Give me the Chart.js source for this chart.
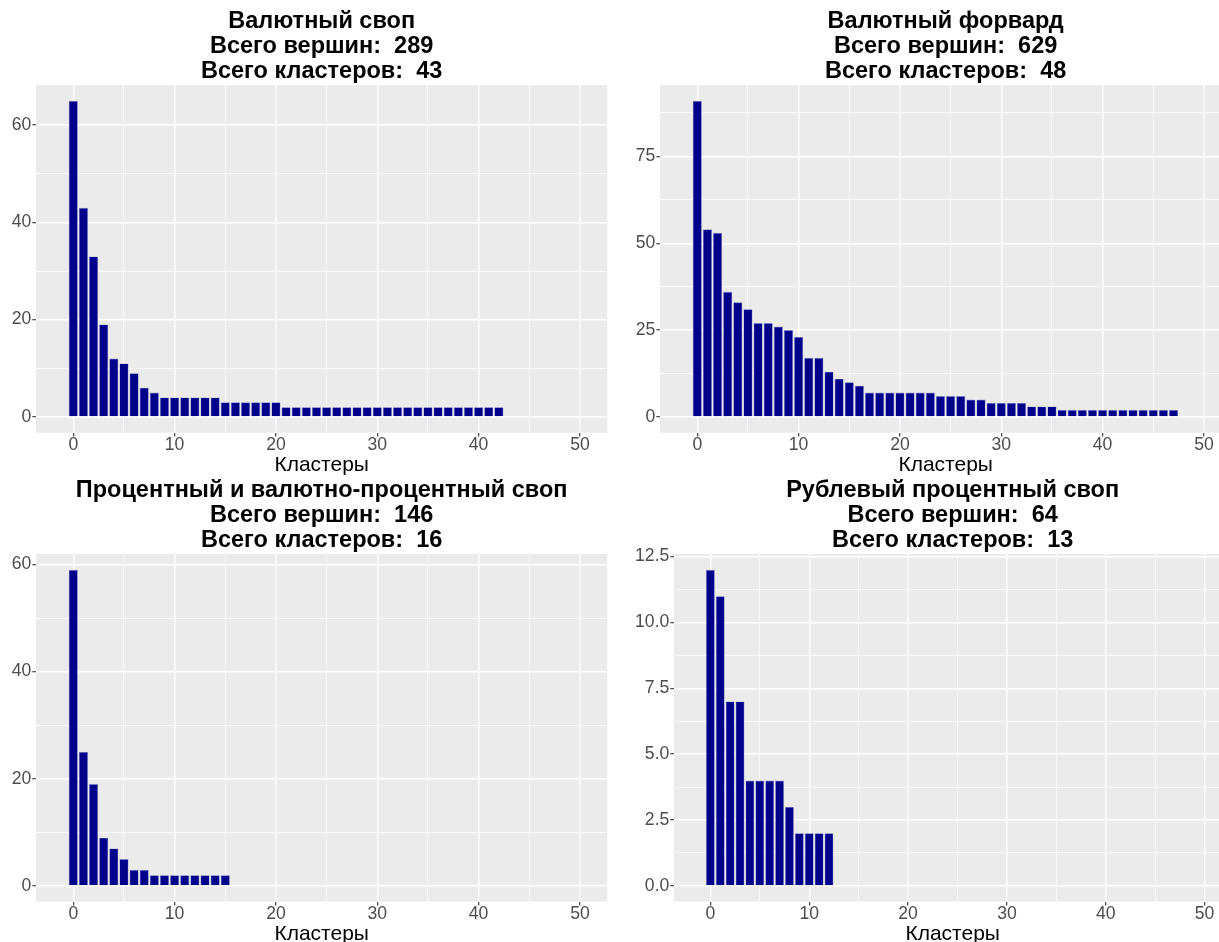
<!DOCTYPE html>
<html>
<head>
<meta charset="utf-8">
<script src="https://cdn.jsdelivr.net/npm/chart.js@4.4.0/dist/chart.umd.min.js"></script>
<style>
html,body{margin:0;padding:0;background:#ffffff;overflow:hidden;width:1219px;height:942px;}
.panel{position:absolute;}
</style>
</head>
<body>
<div class="panel" style="left:0px;top:0px;width:624px;height:478px"><canvas id="c1"></canvas></div>
<div class="panel" style="left:624px;top:0px;width:624px;height:478px"><canvas id="c2"></canvas></div>
<div class="panel" style="left:0px;top:469px;width:624px;height:478px"><canvas id="c3"></canvas></div>
<div class="panel" style="left:624px;top:469px;width:624px;height:478px"><canvas id="c4"></canvas></div>
<script>
// ---- data ----
const fxSwapTitle = ["Валютный своп", "Всего вершин:  289", "Всего кластеров:  43"];
const fxSwapValues = [65,43,33,19,12,11,9,6,5,4,4,4,4,4,4,3,3,3,3,3,3,2,2,2,2,2,2,2,2,2,2,2,2,2,2,2,2,2,2,2,2,2,2];

const fxForwardTitle = ["Валютный форвард", "Всего вершин:  629", "Всего кластеров:  48"];
const fxForwardValues = [91,54,53,36,33,31,27,27,26,25,23,17,17,13,11,10,9,7,7,7,7,7,7,7,6,6,6,5,5,4,4,4,4,3,3,3,2,2,2,2,2,2,2,2,2,2,2,2];

const irSwapTitle = ["Процентный и валютно-процентный своп", "Всего вершин:  146", "Всего кластеров:  16"];
const irSwapValues = [59,25,19,9,7,5,3,3,2,2,2,2,2,2,2,2];

const rubSwapTitle = ["Рублевый процентный своп", "Всего вершин:  64", "Всего кластеров:  13"];
const rubSwapValues = [12,11,7,7,4,4,4,4,3,2,2,2,2];

const xAxisTitle = "Кластеры";
const xMajorTicks = [0,10,20,30,40,50];
const xMinorTicks = [5,15,25,35,45];

const y1Major = [0,20,40,60];        const y1Minor = [10,30,50];
const y2Major = [0,25,50,75];        const y2Minor = [12.5,37.5,62.5,87.5];
const y3Major = [0,20,40,60];        const y3Minor = [10,30,50];
const y4Major = [0,2.5,5,7.5,10,12.5]; const y4Minor = [1.25,3.75,6.25,8.75,11.25];
const y4Labels = ["0.0","2.5","5.0","7.5","10.0","12.5"];

// ---- drawing ----
const FONT = "'Liberation Sans', Arial, sans-serif";
const bgPlugin = {
  id: 'panelBg',
  beforeDraw(chart) {
    const a = chart.chartArea;
    const ctx = chart.ctx;
    ctx.save();
    ctx.fillStyle = '#EBEBEB';
    ctx.fillRect(a.left, a.top, a.right - a.left, a.bottom - a.top);
    ctx.restore();
  }
};

function makeChart(id, title, values, yMajor, yMinor, yMin, yMax, yLabels, yAxisWidth) {
  const points = values.map((v, i) => ({x: i, y: v}));
  const xAll = xMinorTicks.concat(xMajorTicks).sort((a, b) => a - b);
  const yAll = yMinor.concat(yMajor).sort((a, b) => a - b);
  const isXMajor = v => xMajorTicks.includes(v);
  const isYMajor = v => yMajor.includes(v);
  return new Chart(document.getElementById(id), {
    type: 'bar',
    data: {
      datasets: [{
        data: points,
        backgroundColor: '#00008B',
        borderColor: '#8E8ECF',
        borderWidth: 0.6,
        barPercentage: 0.9,
        categoryPercentage: 1.0
      }]
    },
    options: {
      responsive: true,
      maintainAspectRatio: false,
      animation: false,
      devicePixelRatio: 1,
      layout: { padding: { left: 0, right: 16.7, top: 0, bottom: 0 } },
      plugins: {
        legend: { display: false },
        tooltip: { enabled: false },
        title: {
          display: true,
          text: title,
          fullSize: false,
          color: '#000000',
          font: { family: FONT, size: 23.5, weight: 'bold', lineHeight: '25px' },
          padding: { top: 9.5, bottom: 0.5 }
        }
      },
      scales: {
        x: {
          type: 'linear',
          offset: false,
          min: -3.68,
          max: 52.7,
          afterBuildTicks: s => { s.ticks = xAll.map(v => ({ value: v })); },
          afterFit: s => { s.height = 45.3; },
          border: { display: false },
          grid: {
            offset: false,
            color: '#FFFFFF',
            lineWidth: c => (c.tick && isXMajor(c.tick.value)) ? 1.4 : 0.7,
            drawTicks: true,
            tickLength: 3.7,
            tickWidth: 1.1,
            tickColor: c => (c.tick && isXMajor(c.tick.value)) ? '#333333' : 'rgba(0,0,0,0)'
          },
          ticks: {
            autoSkip: false,
            maxRotation: 0,
            padding: 0,
            color: '#4D4D4D',
            font: { family: FONT, size: 17.6, lineHeight: 1 },
            callback: v => isXMajor(v) ? String(v) : ''
          },
          title: {
            display: true,
            text: xAxisTitle,
            color: '#000000',
            font: { family: FONT, size: 21, lineHeight: 1.2 },
            padding: 0
          }
        },
        y: {
          type: 'linear',
          min: yMin,
          max: yMax,
          afterBuildTicks: s => { s.ticks = yAll.map(v => ({ value: v })); },
          afterFit: s => { s.width = yAxisWidth; },
          border: { display: false },
          grid: {
            color: '#FFFFFF',
            lineWidth: c => (c.tick && isYMajor(c.tick.value)) ? 1.4 : 0.7,
            drawTicks: true,
            tickLength: 3.7,
            tickWidth: 1.1,
            tickColor: c => (c.tick && isYMajor(c.tick.value)) ? '#333333' : 'rgba(0,0,0,0)'
          },
          ticks: {
            autoSkip: false,
            padding: 1,
            color: '#4D4D4D',
            font: { family: FONT, size: 17.6, lineHeight: 1 },
            callback: v => {
              const k = yMajor.indexOf(v);
              if (k < 0) return '';
              return yLabels ? yLabels[k] : String(v);
            }
          }
        }
      }
    },
    plugins: [bgPlugin]
  });
}

makeChart('c1', fxSwapTitle, fxSwapValues, y1Major, y1Minor, -3.25, 68.25, null, 36);
makeChart('c2', fxForwardTitle, fxForwardValues, y2Major, y2Minor, -4.55, 95.55, null, 36);
makeChart('c3', irSwapTitle, irSwapValues, y3Major, y3Minor, -2.95, 61.95, null, 36);
makeChart('c4', rubSwapTitle, rubSwapValues, y4Major, y4Minor, -0.6, 12.6, y4Labels, 50);
</script>
</body>
</html>
